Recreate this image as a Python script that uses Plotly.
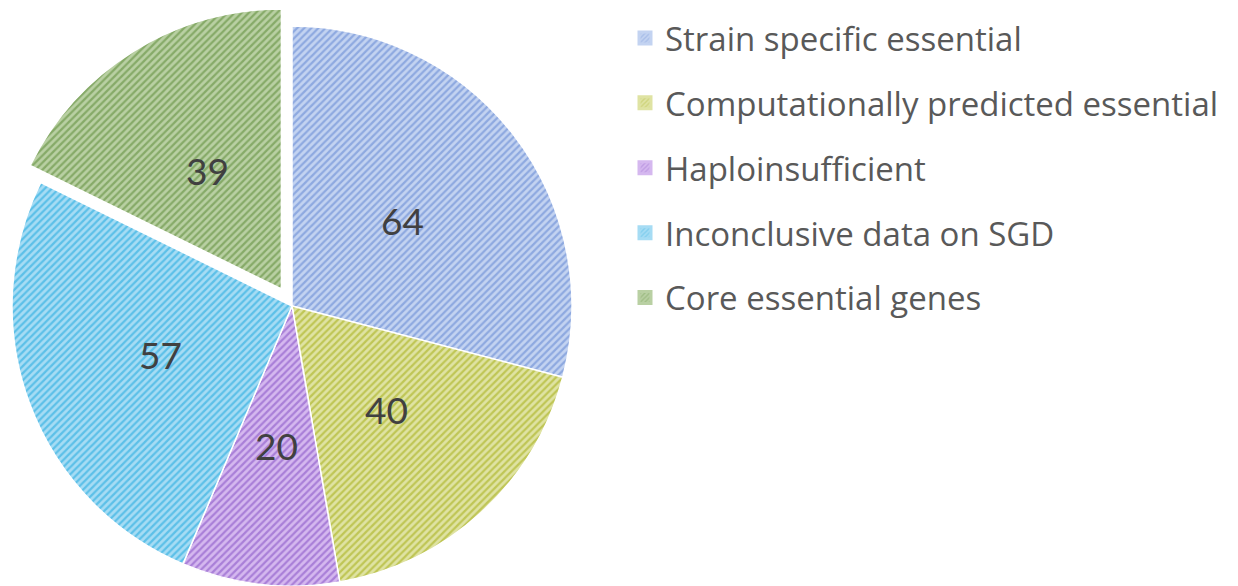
import math
import plotly.graph_objects as go

# Gene categories and their counts (clockwise from 12 o'clock)
categories = [
    "Strain specific essential",
    "Computationally predicted essential",
    "Haploinsufficient",
    "Inconclusive data on SGD",
    "Core essential genes",
]
counts = [64, 40, 20, 57, 39]

# Hatch colours: light background with darker diagonal stripes
bg_colors = ["#c3d3f1", "#dfe3a3", "#d5b8ef", "#a6dcf4", "#b9d0a3"]
fg_colors = ["#8ea9e0", "#bfc655", "#a97fd8", "#5cc0e8", "#86aa68"]

exploded = 4          # index of the slice pulled out of the pie
W, H = 1238, 586
CX, CY, R = 292, 306, 280   # pie centre and radius in pixels
PULL = 20                   # how far the exploded slice is pulled out (px)
LABEL_R = 0.5               # value labels sit at half the radius

TRANSPARENT = "rgba(0,0,0,0)"
n = len(counts)
total = sum(counts)


def domain_for(cx, cy, r):
    return dict(
        x=[(cx - r) / W, (cx + r) / W],
        y=[(H - (cy + r)) / H, (H - (cy - r)) / H],
    )


def slice_style(show):
    return dict(
        colors=[bg_colors[i] if show[i] else TRANSPARENT for i in range(n)],
        line=dict(color=["white" if show[i] else TRANSPARENT for i in range(n)],
                  width=1.5),
        pattern=dict(
            shape=["/" if show[i] else "" for i in range(n)],
            fgcolor=[fg_colors[i] if show[i] else TRANSPARENT for i in range(n)],
            bgcolor=[bg_colors[i] if show[i] else TRANSPARENT for i in range(n)],
            size=5,
            solidity=0.45,
            fillmode="replace",
        ),
    )


def mid_angle(i):
    return math.radians((sum(counts[:i]) + counts[i] / 2) / total * 360)


common = dict(
    labels=categories,
    values=counts,
    sort=False,
    direction="clockwise",
    rotation=0,
    textinfo="none",
    hoverinfo="skip",
    showlegend=False,
)

# Exploded slice offset along its mid-angle
ex_dx = PULL * math.sin(mid_angle(exploded))
ex_dy = -PULL * math.cos(mid_angle(exploded))

# Main body of the pie (exploded slice left empty)
main_show = [i != exploded for i in range(n)]
main_pie = go.Pie(**common, marker=slice_style(main_show),
                  domain=domain_for(CX, CY, R))

# Exploded slice, shifted outward
ex_show = [i == exploded for i in range(n)]
ex_pie = go.Pie(**common, marker=slice_style(ex_show),
                domain=domain_for(CX + ex_dx, CY + ex_dy, R))

fig = go.Figure([main_pie, ex_pie])

# Value labels at half radius along each slice's mid-angle
for i, v in enumerate(counts):
    cx = CX + (ex_dx if i == exploded else 0)
    cy = CY + (ex_dy if i == exploded else 0)
    a = mid_angle(i)
    px = cx + LABEL_R * R * math.sin(a)
    py = cy - LABEL_R * R * math.cos(a)
    fig.add_annotation(
        x=px / W, y=1 - py / H, xref="paper", yref="paper",
        xanchor="center", yanchor="middle",
        text=str(v), showarrow=False,
        font=dict(family="Lato", size=37, color="#404040"),
    )

# Legend entries with hatched swatches
for i, name in enumerate(categories):
    fig.add_trace(go.Bar(
        x=[None], y=[None], name=name, legendgroup=name,
        marker=dict(color=bg_colors[i], line=dict(width=3, color=bg_colors[i]),
                    pattern=dict(shape="/", fgcolor=fg_colors[i],
                                 bgcolor=bg_colors[i], size=4, solidity=0.45)),
        hoverinfo="skip",
    ))

fig.update_layout(
    width=W, height=H,
    margin=dict(l=0, r=0, t=0, b=0),
    paper_bgcolor="white",
    plot_bgcolor="white",
    xaxis=dict(visible=False),
    yaxis=dict(visible=False),
    legend=dict(
        x=625 / W, y=1 - 10 / H, xanchor="left", yanchor="top",
        font=dict(family="Open Sans", size=33, color="#595959"),
        tracegroupgap=19,
        bgcolor="rgba(0,0,0,0)",
    ),
)

fig.write_html("out.html")
